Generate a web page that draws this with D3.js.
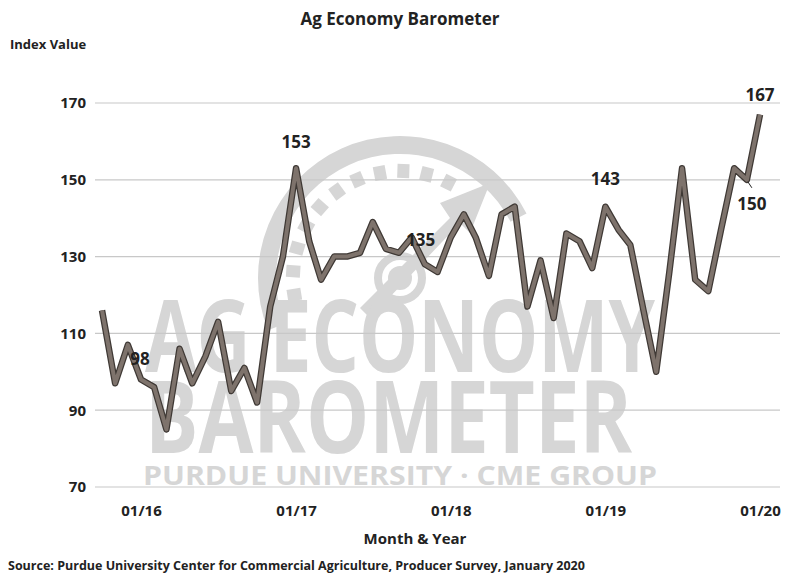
<!DOCTYPE html>
<html><head><meta charset="utf-8">
<script src="https://cdn.jsdelivr.net/npm/d3@7"></script>
<style>body{margin:0;background:#fff}text{font-family:"Open Sans",Calibri,sans-serif}</style>
</head><body><div id="chart"></div>
<script>
var startMonth = "2015-10";
var values = [116, 97, 107,
  98, 96, 85, 106, 97, 104, 113, 95, 101, 92, 117, 130,
  153, 134, 124, 130, 130, 131, 139, 132, 131, 135, 128, 126,
  135, 141, 135, 125, 141, 143, 117, 129, 114, 136, 134, 127,
  143, 137, 133, 116, 100, 126, 153, 124, 121, 137, 153, 150,
  167];
var yTicks = [70, 90, 110, 130, 150, 170];
var xTicks = ["2016-01", "2017-01", "2018-01", "2019-01", "2020-01"];
var labels = [{m: "2016-01", v: 98, dx: -1, dy: -14}, {m: "2017-01", v: 153, dx: 0, dy: -20},
  {m: "2017-10", v: 135, dx: 9, dy: 9}, {m: "2019-01", v: 143, dx: 0, dy: -22},
  {m: "2019-12", v: 150, dx: 5, dy: 30}, {m: "2020-01", v: 167, dx: 0, dy: -14}];

var W = 800, H = 580;
var parse = d3.timeParse("%Y-%m");
var t0 = parse(startMonth);
var data = values.map(function(v, i){ return {d: d3.timeMonth.offset(t0, i), v: v}; });

var svg = d3.select("#chart").append("svg").attr("width", W).attr("height", H);

var x = d3.scaleTime().domain([parse("2016-01"), parse("2020-01")]).range([141, 760]);
var y = d3.scaleLinear().domain([70, 170]).range([487, 103]);

// watermark
var wm = svg.append("g").attr("fill", "#d6d6d6").attr("stroke", "none");
var cx = 400, cy = 278, r = 142;
var arc = d3.arc().innerRadius(r - 18).outerRadius(r).startAngle(-Math.PI * 0.62).endAngle(Math.PI * 0.35);
wm.append("path").attr("transform", "translate(" + cx + "," + cy + ")").attr("d", arc());
for (var a = -0.55; a <= 0.2; a += 0.07) {
  var ang = a * Math.PI;
  wm.append("rect").attr("x", -6).attr("y", -(r - 28)).attr("width", 12).attr("height", 14)
    .attr("transform", "translate(" + cx + "," + cy + ") rotate(" + (ang * 180 / Math.PI) + ")");
}
wm.append("circle").attr("cx", cx).attr("cy", cy).attr("r", 22).attr("fill", "none").attr("stroke", "#d6d6d6").attr("stroke-width", 8);
wm.append("circle").attr("cx", cx).attr("cy", cy).attr("r", 12);
wm.append("path").attr("d", "M" + (cx - 40) + "," + (cy + 30) + "L" + (cx + 50) + "," + (cy - 60) + "L" + (cx + 40) + "," + (cy - 75) + "L" + (cx + 90) + "," + (cy - 95) + "L" + (cx + 70) + "," + (cy - 45) + "L" + (cx + 60) + "," + (cy - 55) + "L" + (cx - 30) + "," + (cy + 40) + "Z");
wm.append("text").attr("x", 145).attr("y", 372).attr("font-size", 100).attr("font-weight", "bold")
  .attr("textLength", 510).attr("lengthAdjust", "spacingAndGlyphs").text("AG ECONOMY");
wm.append("text").attr("x", 145).attr("y", 453).attr("font-size", 100).attr("font-weight", "bold")
  .attr("textLength", 487).attr("lengthAdjust", "spacingAndGlyphs").text("BAROMETER");
wm.append("text").attr("x", 143).attr("y", 485).attr("font-size", 27).attr("font-weight", "bold")
  .attr("textLength", 514).attr("lengthAdjust", "spacingAndGlyphs").text("PURDUE UNIVERSITY  ·  CME GROUP");

// grid
svg.append("g").selectAll("line").data(yTicks).enter().append("line")
  .attr("x1", 95).attr("x2", 780).attr("y1", function(d){ return y(d); }).attr("y2", function(d){ return y(d); })
  .attr("stroke", "#c8c8c8").attr("stroke-width", 1.2);

var yAxis = svg.append("g").attr("transform", "translate(92,0)")
  .call(d3.axisLeft(y).tickValues(yTicks).tickSize(0).tickPadding(6));
yAxis.select(".domain").remove();
yAxis.selectAll("text").attr("font-size", 15).attr("font-weight", "bold").attr("fill", "#222").style("font-family", "Open Sans");

var xAxis = svg.append("g").attr("transform", "translate(0,495)")
  .call(d3.axisBottom(x).tickValues(xTicks.map(parse)).tickFormat(d3.timeFormat("%m/%y")).tickSize(0).tickPadding(10));
xAxis.select(".domain").remove();
xAxis.selectAll("text").attr("font-size", 15).attr("font-weight", "bold").attr("fill", "#222").style("font-family", "Open Sans");

// line
var line = d3.line().x(function(d){ return x(d.d); }).y(function(d){ return y(d.v); });
svg.append("path").datum(data).attr("d", line).attr("fill", "none").attr("stroke", "#3f3935")
  .attr("stroke-width", 6.5).attr("stroke-linejoin", "round");
svg.append("path").datum(data).attr("d", line).attr("fill", "none").attr("stroke", "#7e736c")
  .attr("stroke-width", 4).attr("stroke-linejoin", "round");

// data labels
svg.append("line").attr("x1", x(parse("2019-12")) + 1).attr("y1", y(150) + 2)
  .attr("x2", x(parse("2019-12")) + 5).attr("y2", y(150) + 8).attr("stroke", "#222");
svg.append("g").selectAll("text").data(labels).enter().append("text")
  .attr("x", function(d){ return x(parse(d.m)) + d.dx; })
  .attr("y", function(d){ return y(d.v) + d.dy; })
  .attr("text-anchor", "middle").attr("font-size", 17).attr("font-weight", "bold").attr("fill", "#222")
  .text(function(d){ return d.v; });

// titles
svg.append("text").attr("x", 400).attr("y", 25).attr("text-anchor", "middle").attr("font-size", 17)
  .attr("font-weight", "bold").attr("fill", "#222").text("Ag Economy Barometer");
svg.append("text").attr("x", 10).attr("y", 49).attr("font-size", 13).attr("font-weight", "bold")
  .attr("fill", "#222").text("Index Value");
svg.append("text").attr("x", 415).attr("y", 544).attr("text-anchor", "middle").attr("font-size", 15)
  .attr("font-weight", "bold").attr("fill", "#222").text("Month & Year");
svg.append("text").attr("x", 8).attr("y", 570).attr("font-size", 12.5).attr("font-weight", "bold")
  .attr("fill", "#222").text("Source: Purdue University Center for Commercial Agriculture, Producer Survey, January 2020");
</script></body></html>
